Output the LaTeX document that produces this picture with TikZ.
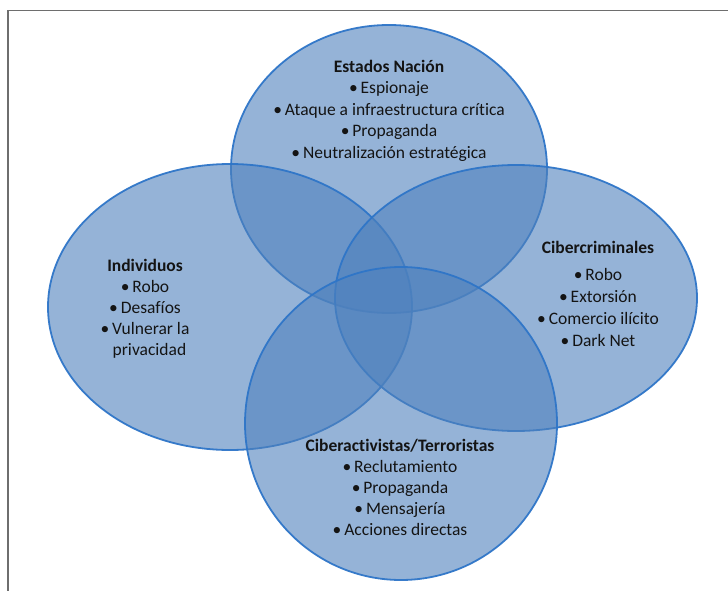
\documentclass[tikz,border=0pt]{standalone}
\usepackage{fontspec}
\setmainfont{Carlito}[RawFeature={-liga;-clig;-calt;-dlig}]
\definecolor{vennfill}{RGB}{79,129,189}
\definecolor{vennline}{RGB}{46,117,200}
\definecolor{txtcol}{RGB}{20,20,20}
\definecolor{framecol}{RGB}{110,110,110}
\begin{document}
\begin{tikzpicture}[x=1pt,y=-1pt,
  venn/.style={fill=vennfill,fill opacity=0.6,draw=vennline,draw opacity=0.95,line width=1.8pt},
  txt/.style={anchor=base,inner sep=0pt,text=txtcol,font=\fontsize{17.5}{21.5}\selectfont},
  frameline/.style={draw=framecol,line width=1.2pt}]
\useasboundingbox (0,0) rectangle (728,591);
% frame
\coordinate (fTL) at (8,10.5);
\coordinate (fTR) at (728,10.5);
\coordinate (fBL) at (8,591);
\draw[frameline] (fBL) -- (fTL) -- (fTR);
% ellipses
\draw[venn] (389,169) ellipse [x radius=158,y radius=144];
\draw[venn] (230,307) ellipse [x radius=182,y radius=143];
\draw[venn] (516,298) ellipse [x radius=181,y radius=133];
\draw[venn] (401,423.5) ellipse [x radius=156,y radius=156.5];
% Estados Nacion
\node[txt] (t1) at (389,73) {\textbf{Estados Nación}};
\node[txt] (t2) at (389,94) {•\,Espionaje};
\node[txt] (t3) at (389,115.5) {•\,Ataque a infraestructura crítica};
\node[txt] (t4) at (389,137) {•\,Propaganda};
\node[txt] (t5) at (389,158.5) {•\,Neutralización estratégica};
% Individuos
\node[txt] (i1) at (145,271) {\textbf{Individuos}};
\node[txt] (i2) at (145,292) {•\,Robo};
\node[txt] (i3) at (145,313) {•\,Desafíos};
\node[txt] (i4) at (145,334) {•\,Vulnerar la};
\node[txt,anchor=base west] (i5) at (112.5,355) {privacidad};
% Cibercriminales
\node[txt] (c1) at (598,253) {\textbf{Cibercriminales}};
\node[txt] (c2) at (598,280) {•\,Robo};
\node[txt] (c3) at (598,302) {•\,Extorsión};
\node[txt] (c4) at (598,324) {•\,Comercio ilícito};
\node[txt] (c5) at (598,346) {•\,Dark Net};
% Ciberactivistas
\node[txt] (a1) at (400,451) {\textbf{Ciberactivistas/Terroristas}};
\node[txt] (a2) at (400,472.5) {•\,Reclutamiento};
\node[txt] (a3) at (400,493.5) {•\,Propaganda};
\node[txt] (a4) at (400,514.5) {•\,Mensajería};
\node[txt] (a5) at (400,535.5) {•\,Acciones directas};
\end{tikzpicture}
\end{document}
